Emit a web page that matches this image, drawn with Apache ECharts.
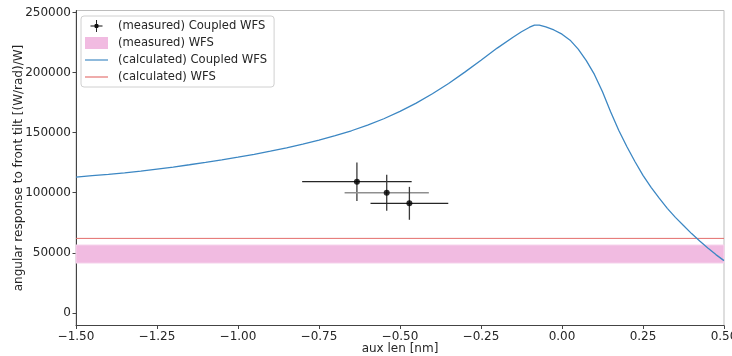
<!DOCTYPE html>
<html>
<head>
<meta charset="utf-8">
<script src="https://cdn.jsdelivr.net/npm/echarts@6/dist/echarts.min.js"></script>
<style>
  html, body { margin: 0; padding: 0; background: #fff; }
  #chart { width: 732px; height: 356px; }
</style>
</head>
<body>
<div id="chart"></div>
<script>
// Calculated angular response of the coupled WFS versus aux length
const curveX = [-1.50, -1.45, -1.40, -1.35, -1.30, -1.25, -1.20, -1.15, -1.10, -1.05,
                -1.00, -0.95, -0.90, -0.85, -0.80, -0.75, -0.70, -0.65, -0.60, -0.55,
                -0.50, -0.45, -0.40, -0.35, -0.30, -0.25, -0.20, -0.15, -0.125, -0.10,
                -0.085, -0.07, -0.05, -0.025, 0.00, 0.025, 0.05, 0.075, 0.10, 0.125,
                0.15, 0.175, 0.20, 0.225, 0.25, 0.275, 0.30, 0.325, 0.35, 0.375,
                0.40, 0.425, 0.45, 0.475, 0.50];
const curveY = [113000, 114200, 115300, 116600, 118000, 119700, 121400, 123300, 125300, 127400,
                129600, 132000, 134600, 137400, 140500, 143800, 147500, 151600, 156300, 161600,
                167700, 174600, 182400, 191000, 200400, 210300, 220400, 229600, 234000, 237800,
                239600, 239500, 238000, 235500, 232000, 227000, 219500, 210000, 198500, 184000,
                167500, 152000, 138500, 126000, 114500, 104500, 95500, 87000, 79500, 72800,
                66000, 59800, 54000, 48500, 43500];

// Calculated response of the plain WFS (flat)
const wfsCalcX = [-1.5, 0.5];
const wfsCalcY = [62000, 62000];

// Measured WFS response band (low, high)
const wfsMeasBand = [41500, 56500];

// Measured coupled WFS points with symmetric errors
const measX = [-0.633, -0.541, -0.471];
const measY = [109200, 100000, 91200];
const measXErr = [0.169, 0.130, 0.120];
const measYErr = [16000, 15000, 13700];

// Axis ticks
const xTicks = [-1.5, -1.25, -1.0, -0.75, -0.5, -0.25, 0.0, 0.25, 0.5];
const yTicks = [0, 50000, 100000, 150000, 200000, 250000];

// Horizontal error-bar shades per point
const hBarShade = ['#262626', '#8f8f8f', '#262626'];

const FONT = 'DejaVu Sans';
const INK = '#262626';

const chart = echarts.init(document.getElementById('chart'), null, { renderer: 'canvas' });

const curveData = curveX.map((x, i) => [x, curveY[i]]);
const wfsCalcData = wfsCalcX.map((x, i) => [x, wfsCalcY[i]]);
const measData = measX.map((x, i) => [x, measY[i]]);
const errData = measX.map((x, i) => [x, measY[i], measXErr[i], measYErr[i]]);
const bandData = [[xTicks[0], wfsMeasBand[0], xTicks[xTicks.length - 1], wfsMeasBand[1]]];

const crossIcon = 'path://M0,7.4H16V8.6H0Z M7.4,0H8.6V16H7.4Z M5,8A3,3 0 1 1 11,8A3,3 0 1 1 5,8Z';
const lineIcon = 'path://M0,0H24V1.2H0Z';

chart.setOption({
  animation: false,
  backgroundColor: '#fff',
  textStyle: { fontFamily: FONT },
  grid: {
    left: 76, right: 8, top: 10.5, bottom: 30.5,
    containLabel: false,
    outerBoundsMode: 'none',
    show: true, borderColor: '#bdbdbd', borderWidth: 1
  },
  legend: {
    orient: 'vertical',
    left: 81, top: 16,
    padding: [4, 7, 4, 4],
    itemWidth: 23, itemHeight: 12, itemGap: 5,
    backgroundColor: 'rgba(255,255,255,0.85)',
    borderColor: '#d0d0d0', borderWidth: 1, borderRadius: 3,
    textStyle: { fontFamily: FONT, fontSize: 11.6, color: INK, padding: [0, 0, 0, 5] },
    data: [
      { name: '(measured) Coupled WFS', icon: crossIcon },
      { name: '(measured) WFS', icon: 'rect' },
      { name: '(calculated) Coupled WFS', icon: lineIcon },
      { name: '(calculated) WFS', icon: lineIcon }
    ]
  },
  xAxis: {
    type: 'value',
    min: -1.5, max: 0.5, interval: 0.25,
    name: 'aux len [nm]',
    nameLocation: 'middle', nameGap: 17, nameMoveOverlap: false,
    nameTextStyle: { fontFamily: FONT, fontSize: 12, color: INK },
    axisLine: { onZero: false, lineStyle: { color: '#444', width: 1 } },
    axisTick: { length: 3.5, lineStyle: { color: '#444' } },
    axisLabel: {
      fontFamily: FONT, fontSize: 12, color: INK, margin: 5,
      formatter: v => (v < 0 ? '\u2212' : '') + Math.abs(v).toFixed(2)
    },
    splitLine: { show: false }
  },
  yAxis: {
    type: 'value',
    min: -10500, max: 251700,
    name: 'angular response to front tilt [(W/rad)/W]',
    nameLocation: 'middle', nameGap: 51, nameMoveOverlap: false,
    nameTextStyle: { fontFamily: FONT, fontSize: 12, color: INK },
    axisLine: { show: true, onZero: false, lineStyle: { color: '#444', width: 1 } },
    axisTick: { show: true, length: 3.5, lineStyle: { color: '#444' }, customValues: yTicks },
    axisLabel: {
      fontFamily: FONT, fontSize: 12, color: INK, margin: 5, customValues: yTicks,
      formatter: v => String(v)
    },
    splitLine: { show: false }
  },
  series: [
    {
      name: '(measured) WFS',
      type: 'custom',
      z: 1,
      itemStyle: { color: '#f1bbe1' },
      encode: { x: [0, 2], y: [1, 3] },
      data: bandData,
      renderItem(params, api) {
        const p0 = api.coord([api.value(0), api.value(3)]);
        const p1 = api.coord([api.value(2), api.value(1)]);
        return {
          type: 'rect',
          shape: { x: p0[0], y: p0[1], width: p1[0] - p0[0], height: p1[1] - p0[1] },
          style: { fill: '#f1bbe1', stroke: '#f6d3ec', lineWidth: 1 }
        };
      }
    },
    {
      name: '(calculated) WFS',
      type: 'line',
      z: 2,
      symbol: 'none',
      color: '#e46e6c',
      lineStyle: { color: '#e46e6c', width: 1 },
      data: wfsCalcData
    },
    {
      name: '(calculated) Coupled WFS',
      type: 'line',
      z: 3,
      symbol: 'none',
      color: '#3c87c3',
      lineStyle: { color: '#3c87c3', width: 1.3 },
      data: curveData
    },
    {
      name: '(measured) Coupled WFS',
      type: 'custom',
      z: 4,
      itemStyle: { color: '#111' },
      encode: { x: 0, y: 1 },
      data: errData,
      renderItem(params, api) {
        const x = api.value(0), y = api.value(1), ex = api.value(2), ey = api.value(3);
        const l = api.coord([x - ex, y]), r = api.coord([x + ex, y]);
        const t = api.coord([x, y + ey]), b = api.coord([x, y - ey]);
        return {
          type: 'group',
          children: [
            { type: 'line', shape: { x1: l[0], y1: l[1], x2: r[0], y2: r[1] },
              style: { stroke: hBarShade[params.dataIndex], lineWidth: 1.3 } },
            { type: 'line', shape: { x1: t[0], y1: t[1], x2: b[0], y2: b[1] },
              style: { stroke: '#3a3a3a', lineWidth: 1.3 } }
          ]
        };
      }
    },
    {
      name: '(measured) Coupled WFS',
      type: 'scatter',
      z: 5,
      symbol: 'circle',
      symbolSize: 6,
      symbolKeepAspect: true,
      itemStyle: { color: '#000' },
      data: measData
    }
  ]
});
</script>
</body>
</html>
